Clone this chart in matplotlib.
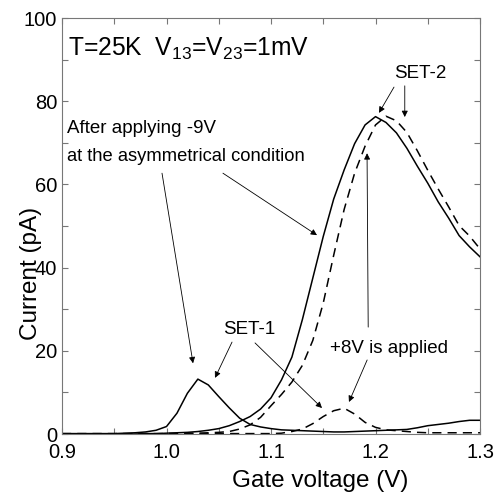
import numpy as np
import matplotlib.pyplot as plt
from matplotlib.ticker import MultipleLocator, FormatStrFormatter

plt.rcParams['font.family'] = ['Liberation Sans', 'DejaVu Sans']
plt.rcParams['mathtext.fontset'] = 'custom'
plt.rcParams['mathtext.rm'] = 'Liberation Sans'
plt.rcParams['mathtext.it'] = 'Liberation Sans'

# gate voltage grid (V)
vg = np.round(np.arange(0.90, 1.3001, 0.01), 2)

# after applying -9V (solid)
set1_after = [0.1, 0.1, 0.1, 0.1, 0.1, 0.1, 0.2, 0.3, 0.5, 0.9,
              1.8, 5.0, 9.8, 13.2, 11.8, 9.0, 6.3, 3.8, 2.3, 1.7,
              1.3, 1.0, 0.9, 0.8, 0.7, 0.6, 0.5, 0.5, 0.6, 0.7,
              0.8, 0.9, 1.0, 1.1, 1.5, 2.0, 2.3, 2.6, 3.0, 3.3, 3.3]
set2_after = [0.0, 0.0, 0.0, 0.0, 0.0, 0.0, 0.0, 0.0, 0.1, 0.1,
              0.2, 0.3, 0.4, 0.6, 0.9, 1.3, 2.0, 3.0, 4.2, 6.0,
              8.7, 13.0, 18.5, 27.5, 37.5, 47.5, 56.5, 63.5, 69.8, 74.3,
              76.3, 74.9, 72.4, 68.7, 64.4, 60.3, 55.8, 51.9, 47.7, 45.0, 42.6]

# +8V is applied (dashed)
set1_plus8 = [0.1, 0.1, 0.1, 0.1, 0.1, 0.1, 0.1, 0.1, 0.1, 0.1,
              0.1, 0.1, 0.1, 0.1, 0.1, 0.1, 0.1, 0.1, 0.1, 0.1,
              0.1, 0.2, 0.6, 1.2, 2.5, 4.2, 5.6, 6.2, 4.8, 2.8,
              1.6, 1.0, 0.8, 0.6, 0.4, 0.3, 0.3, 0.3, 0.3, 0.3, 0.3]
set2_plus8 = [0.0, 0.0, 0.0, 0.0, 0.0, 0.0, 0.0, 0.0, 0.0, 0.0,
              0.1, 0.1, 0.2, 0.2, 0.3, 0.4, 0.6, 1.2, 2.2, 4.0,
              6.8, 9.5, 12.5, 16.5, 22.5, 31.5, 43.0, 54.0, 62.7, 69.2,
              74.3, 76.4, 75.3, 72.5, 68.1, 63.4, 58.9, 54.6, 50.1, 47.6, 44.5]

fig = plt.figure(figsize=(4.94, 5.01), dpi=100)
ax = fig.add_axes([0.1255, 0.1337, 0.8462, 0.8303])

ax.plot(vg, set1_after, color='k', lw=1.1)
ax.plot(vg, set2_after, color='k', lw=1.1)
ax.plot(vg, set1_plus8, color='k', lw=1.1, dashes=(6, 4))
ax.plot(vg, set2_plus8, color='k', lw=1.1, dashes=(6, 4))

ax.set_xlim(0.9, 1.3)
ax.set_ylim(0, 100)
ax.xaxis.set_major_locator(MultipleLocator(0.1))
ax.xaxis.set_minor_locator(MultipleLocator(0.05))
ax.xaxis.set_major_formatter(FormatStrFormatter('%.1f'))
ax.yaxis.set_major_locator(MultipleLocator(20))
ax.yaxis.set_minor_locator(MultipleLocator(10))
ax.tick_params(which='both', direction='in', top=True, right=True,
               color='#777777', labelsize=14.5)
ax.tick_params(axis='x', which='both', pad=6.5)
ax.tick_params(axis='y', which='both', pad=3.5)
ax.tick_params(which='major', length=4.5, width=0.8)
ax.tick_params(which='minor', length=4.5, width=0.8)
for s in ax.spines.values():
    s.set_color('#777777')
    s.set_linewidth(0.8)

ax.set_xlabel('Gate voltage (V)', fontsize=17.5, va='top')
ax.xaxis.set_label_coords(0.617, -0.086)
ax.set_ylabel('Current (pA)', fontsize=17.5)
ax.yaxis.set_label_coords(-0.048, 0.387)

ax.text(0.906, 91, r'T=25K  V$_{13}$=V$_{23}$=1mV', fontsize=17.7)
ax.text(0.905, 72.4, 'After applying -9V', fontsize=13.5)
ax.text(0.905, 65.7, 'at the asymmetrical condition', fontsize=13.2)
ax.text(1.2426, 86.7, 'SET-2', fontsize=13.5, ha='center', va='center')
ax.text(1.054, 24.0, 'SET-1', fontsize=13.5)
ax.text(1.1565, 19.5, '+8V is applied', fontsize=13.5)

ap = dict(arrowstyle='-|>', color='k', lw=0.6, mutation_scale=9,
          shrinkA=0, shrinkB=0)
arrows = [
    ((0.9957, 62.7), (1.0254, 17.0)),
    ((1.054, 62.7), (1.144, 47.8)),
    ((1.0627, 22.1), (1.0464, 13.5)),
    ((1.0847, 21.9), (1.1488, 6.25)),
    ((1.192, 17.8), (1.1746, 7.7)),
    ((1.193, 25.7), (1.1919, 67.5)),
    ((1.2177, 83.4), (1.2033, 77.2)),
    ((1.228, 83.7), (1.228, 76.2)),
]
for tail, head in arrows:
    ax.annotate('', xy=head, xytext=tail, arrowprops=ap)

plt.savefig('out.png', dpi=100)
plt.close('all')
